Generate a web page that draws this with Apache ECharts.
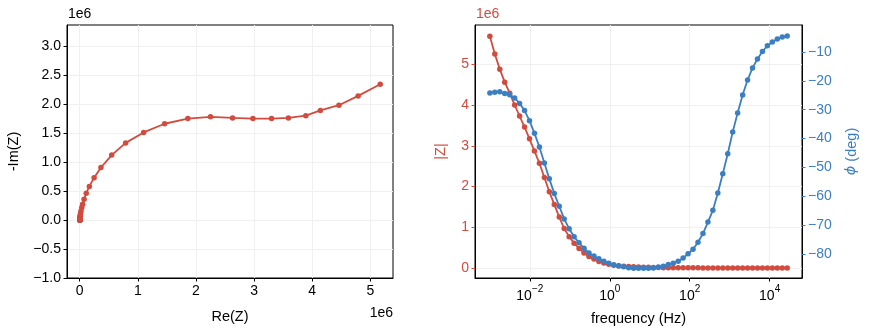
<!DOCTYPE html>
<html>
<head>
<meta charset="utf-8">
<script src="https://cdn.jsdelivr.net/npm/echarts@6/dist/echarts.min.js"></script>
<style>
  html, body { margin: 0; padding: 0; background: #fff; }
  #chart { width: 869px; height: 336px; }
</style>
</head>
<body>
<div id="chart"></div>
<script>
// Nyquist data, in units of 1e6 ohm
const reZ = [5.17, 4.79, 4.46, 4.14, 3.89, 3.59, 3.30, 2.98, 2.63, 2.25, 1.86, 1.46, 1.10, 0.79, 0.55,
  0.365, 0.247, 0.165, 0.112, 0.075, 0.050, 0.035, 0.023, 0.015, 0.0105, 0.0076, 0.0056, 0.0041, 0.0032, 0.0024,
  0.0020, 0.0017, 0.0014, 0.0012, 0.0010, 0.0009, 0.0009, 0.0008, 0.0008, 0.0008, 0.0008, 0.0008, 0.0009, 0.0010,
  0.0010, 0.0011, 0.0012, 0.0013, 0.0013, 0.0014, 0.0015, 0.0015, 0.0015, 0.0015, 0.0015, 0.0015, 0.0015, 0.0015,
  0.0015, 0.0015, 0.0015];
const negImZ = [2.34, 2.14, 1.98, 1.89, 1.80, 1.76, 1.75, 1.75, 1.76, 1.78, 1.75, 1.66, 1.51, 1.33, 1.12,
  0.905, 0.730, 0.580, 0.462, 0.358, 0.272, 0.217, 0.158, 0.119, 0.089, 0.0696, 0.0547, 0.0428, 0.0349, 0.0279,
  0.0229, 0.0189, 0.0159, 0.0129, 0.0110, 0.0090, 0.0080, 0.0070, 0.0059, 0.0052, 0.0046, 0.0041, 0.0036, 0.0032,
  0.0027, 0.0024, 0.0020, 0.0017, 0.0014, 0.0011, 0.0009, 0.0007, 0.0005, 0.0004, 0.0003, 0.0003, 0.0002, 0.0002,
  0.0002, 0.0001, 0.0001];

// Bode data
const freqHz = [0.001, 0.00133, 0.00177, 0.002355, 0.003133, 0.004169, 0.005546, 0.007379, 0.009818,
  0.01306, 0.01738, 0.02312, 0.03076, 0.04093, 0.05445, 0.07244, 0.09638, 0.1282, 0.1706, 0.2270,
  0.3020, 0.4018, 0.5346, 0.7112, 0.9462, 1.259, 1.675, 2.228, 2.965, 3.945, 5.248, 6.982, 9.290,
  12.36, 16.44, 21.88, 29.11, 38.73, 51.52, 68.55, 91.20, 121.3, 161.4, 214.8, 285.8, 380.2, 505.8,
  673.0, 895.4, 1191, 1585, 2109, 2805, 3733, 4966, 6607, 8790, 11695, 15560, 20701, 27542];
// |Z| in units of 1e6 ohm
const magZ = [5.69, 5.25, 4.88, 4.56, 4.29, 4.00, 3.73, 3.46, 3.17, 2.87, 2.57, 2.22, 1.87, 1.56, 1.25,
  0.97, 0.77, 0.61, 0.48, 0.37, 0.28, 0.22, 0.16, 0.12, 0.09, 0.07, 0.055, 0.043, 0.035, 0.028,
  0.023, 0.019, 0.016, 0.013, 0.011, 0.009, 0.008, 0.007, 0.006, 0.0053, 0.0047, 0.0042, 0.0037, 0.0033,
  0.0029, 0.0026, 0.0023, 0.0021, 0.0019, 0.0018, 0.0017, 0.0016, 0.0016, 0.0015, 0.0015, 0.0015, 0.0015,
  0.0015, 0.0015, 0.0015, 0.0015];
// phase in degrees
const phaseDeg = [-24.2, -23.9, -23.8, -24.4, -24.8, -25.9, -27.8, -30.3, -33.8, -38.2, -42.9, -48.5, -54.0,
  -59.1, -63.5, -67.9, -71.3, -74.1, -76.2, -78.1, -79.7, -80.8, -81.7, -82.6, -83.3, -83.8, -84.2, -84.5,
  -84.8, -85.0, -85.0, -85.0, -85.0, -84.9, -84.6, -84.3, -83.7, -83.3, -82.6, -81.5, -80.0, -78.4, -76.0,
  -73.0, -69.0, -64.9, -58.9, -52.2, -45.3, -37.7, -31.1, -24.9, -19.7, -15.5, -12.4, -9.8, -7.8, -6.5,
  -5.5, -4.8, -4.4];

// tick positions
const reTicks = [0, 1, 2, 3, 4, 5];
const imTicks = [-1.0, -0.5, 0.0, 0.5, 1.0, 1.5, 2.0, 2.5, 3.0];
const freqTicks = [0.01, 1, 100, 10000];
const magTicks = [0, 1, 2, 3, 4, 5];
const phaseTicks = [-80, -70, -60, -50, -40, -30, -20, -10];

const RED = '#d24b3f';
const BLUE = '#3b7fc2';
const FONT = 'Liberation Sans';
const TICK_FS = 14;
const NAME_FS = 14.5;
const GRIDLINE = { show: true, lineStyle: { color: '#f0f0f0', width: 1 } };
const AXLINE = { show: true, onZero: false, lineStyle: { color: '#000', width: 1 } };
const minus = s => String(s).replace('-', '\u2212');

const chart = echarts.init(document.getElementById('chart'), null, { renderer: 'canvas' });

const tickStyle = (color, values) => ({
  show: true, length: 3.5, inside: false, customValues: values,
  lineStyle: { color: color, width: 1 }
});

chart.setOption({
  animation: false,
  textStyle: { fontFamily: FONT },
  grid: [
    { left: 67, right: 476, top: 25, bottom: 58, show: true, borderColor: '#000', borderWidth: 1 },
    { left: 475, right: 67, top: 25, bottom: 58, show: true, borderColor: '#000', borderWidth: 1 }
  ],
  xAxis: [
    {
      gridIndex: 0, type: 'value', min: -0.219, max: 5.39,
      axisLine: AXLINE,
      axisTick: tickStyle('#000', reTicks),
      axisLabel: { customValues: reTicks, color: '#000', fontSize: TICK_FS, margin: 6, fontFamily: FONT,
        formatter: v => minus(v) },
      splitLine: GRIDLINE,
      name: 'Re(Z)', nameLocation: 'middle', nameGap: 31,
      nameTextStyle: { color: '#000', fontSize: NAME_FS, fontFamily: FONT }
    },
    {
      gridIndex: 1, type: 'log', min: 0.000425, max: 64565,
      axisLine: AXLINE,
      axisTick: tickStyle('#000', freqTicks),
      minorTick: { show: false },
      axisLabel: {
        customValues: freqTicks, color: '#000', fontSize: TICK_FS, margin: 6, fontFamily: FONT,
        formatter: v => '{b|10}{s|' + minus(Math.round(Math.log10(v))) + '}',
        rich: {
          b: { fontSize: TICK_FS, fontFamily: FONT, color: '#000', verticalAlign: 'bottom', lineHeight: 19 },
          s: { fontSize: 10, fontFamily: FONT, color: '#000', verticalAlign: 'top', lineHeight: 19 }
        }
      },
      splitLine: GRIDLINE,
      name: 'frequency (Hz)', nameLocation: 'middle', nameGap: 33,
      nameTextStyle: { color: '#000', fontSize: NAME_FS, fontFamily: FONT }
    }
  ],
  yAxis: [
    {
      gridIndex: 0, type: 'value', min: -1.0, max: 3.363,
      axisLine: AXLINE,
      axisTick: tickStyle('#000', imTicks),
      axisLabel: { customValues: imTicks, color: '#000', fontSize: TICK_FS, margin: 6, fontFamily: FONT,
        formatter: v => minus(v.toFixed(1)) },
      splitLine: GRIDLINE,
      name: '-Im(Z)', nameLocation: 'middle', nameGap: 46, nameRotate: 90,
      nameTextStyle: { color: '#000', fontSize: NAME_FS, fontFamily: FONT }
    },
    {
      gridIndex: 1, type: 'value', min: -0.245, max: 5.963, position: 'left',
      axisLine: AXLINE,
      axisTick: tickStyle(RED, magTicks),
      axisLabel: { customValues: magTicks, color: RED, fontSize: TICK_FS, margin: 6, fontFamily: FONT },
      splitLine: GRIDLINE,
      name: '|Z|', nameLocation: 'middle', nameGap: 27, nameRotate: 90,
      nameTextStyle: { color: RED, fontSize: NAME_FS, fontFamily: FONT }
    },
    {
      gridIndex: 1, type: 'value', min: -88.4, max: -0.6, position: 'right',
      axisLine: AXLINE,
      axisTick: tickStyle(BLUE, phaseTicks),
      axisLabel: { customValues: phaseTicks, color: BLUE, fontSize: TICK_FS, margin: 6, fontFamily: FONT,
        formatter: v => minus(v) },
      splitLine: { show: false },
      name: '{i|\u03d5} (deg)', nameLocation: 'middle', nameGap: 42, nameRotate: 90,
      nameTextStyle: { color: BLUE, fontSize: NAME_FS, fontFamily: FONT,
        rich: { i: { fontStyle: 'italic', fontSize: NAME_FS, color: BLUE, fontFamily: 'DejaVu Sans' } } }
    }
  ],
  graphic: [
    { type: 'text', left: 68, top: 7, style: { text: '1e6', fontSize: TICK_FS, fontFamily: FONT, fill: '#000' } },
    { type: 'text', right: 476, top: 306, style: { text: '1e6', fontSize: TICK_FS, fontFamily: FONT, fill: '#000' } },
    { type: 'text', left: 476, top: 7, style: { text: '1e6', fontSize: TICK_FS, fontFamily: FONT, fill: RED } }
  ],
  series: [
    {
      name: 'Nyquist', type: 'line', xAxisIndex: 0, yAxisIndex: 0,
      data: reZ.map((r, i) => [r, negImZ[i]]),
      symbol: 'circle', symbolSize: 5.5, showAllSymbol: true,
      itemStyle: { color: RED }, lineStyle: { color: RED, width: 1.8 }
    },
    {
      name: '|Z|', type: 'line', xAxisIndex: 1, yAxisIndex: 1,
      data: freqHz.map((f, i) => [f, magZ[i]]),
      symbol: 'circle', symbolSize: 5.5, showAllSymbol: true,
      itemStyle: { color: RED }, lineStyle: { color: RED, width: 1.8 }
    },
    {
      name: 'phase', type: 'line', xAxisIndex: 1, yAxisIndex: 2,
      data: freqHz.map((f, i) => [f, phaseDeg[i]]),
      symbol: 'circle', symbolSize: 5.5, showAllSymbol: true,
      itemStyle: { color: BLUE }, lineStyle: { color: BLUE, width: 1.8 }
    }
  ]
});
</script>
</body>
</html>
